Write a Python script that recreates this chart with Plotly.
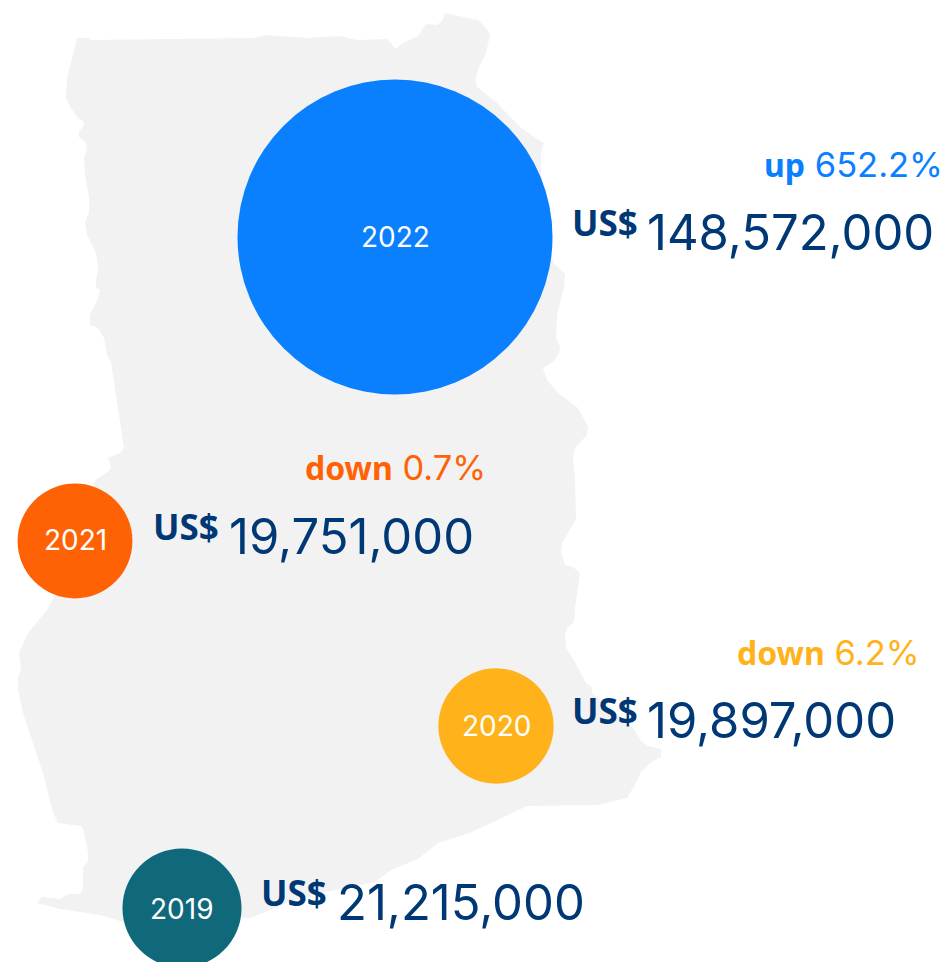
import plotly.graph_objects as go

# Data
years = ["2022", "2021", "2020", "2019"]
values = [148572000, 19751000, 19897000, 21215000]
change_dir = ["up", "down", "down", None]
change_pct = ["652.2%", "0.7%", "6.2%", None]

# Map silhouette
map_x = [77,89,90,255,265,310,320,340,357,387,395,397,403,418,426,437,443,445,478,488,490,486,479,475,477,497,520,537,544,541,541,
         553,565,564,557,556,560,559,553,543,547,558,578,588,587,575,573,575,576,562,561,565,573,580,575,574,567,565,566,575,586,592,592,
         633,642,648,661,661,650,641,635,627,598,527,470,438,418,391,375,320,287,250,123,100,60,37,42,60,69,80,83,83,88,88,83,80,58,53,43,33,23,18,18,21,19,28,47,55,
         95,108,111,108,120,124,117,111,107,104,98,90,90,98,100,96,96,98,96,87,85,89,89,85,84,87,86,79,79,84,83,77,71,66,67,77]
map_y = [38,38,40,38,35,38,37,36,40,39,48,48,43,36,24,25,20,13,20,30,35,53,67,80,87,103,127,139,143,153,173,
         262,274,287,315,337,347,353,362,368,380,393,408,427,435,448,457,480,519,543,552,565,567,573,608,622,628,637,648,662,683,687,693,
         728,742,746,749,757,763,772,785,798,805,806,833,843,859,870,882,893,903,918,922,915,909,903,897,899,894,894,888,867,862,852,828,826,823,812,773,743,713,690,677,668,653,633,610,595,
         480,472,467,458,453,448,403,362,355,338,328,325,315,298,290,288,280,268,253,235,222,213,197,175,157,150,143,137,131,126,121,117,108,98,78,38]

# Layout positions (pixels)
bubble_x = [395, 75, 496, 182]
bubble_y = [237, 541, 726, 908]
bubble_colors = ["#0A80FF", "#FF6205", "#FFB219", "#0F697B"]
year_y = [237, 540, 726, 909]
us_x = [570, 151, 570, 259]
num_x = [645, 227, 645, 335]
row_y = [232, 536, 720, 902]
chg_x = [762, 303, 735, None]
chg_y = [164, 467, 652, None]
NAVY = "#003876"
FONT = "Inter"
BOLD = "Noto Sans"
size_ref = 2 * values[0] / 315 ** 2

fig = go.Figure()
fig.add_trace(go.Scatter(x=map_x, y=map_y, mode="lines", fill="toself", fillcolor="#F2F2F2",
                         line=dict(width=0), hoverinfo="skip"))
fig.add_trace(go.Scatter(x=bubble_x, y=bubble_y, mode="markers",
                         marker=dict(size=values, sizemode="area", sizeref=size_ref, opacity=1,
                                     color=bubble_colors, line=dict(width=0)),
                         cliponaxis=False))

anns = []
for i in range(4):
    anns.append(dict(x=bubble_x[i], y=year_y[i], text=years[i], showarrow=False,
                     xanchor="center", yanchor="middle",
                     font=dict(family=FONT, size=28, color="white"), xref="x", yref="y"))
    anns.append(dict(x=us_x[i], y=row_y[i] - 10, text="<b>US$</b>", showarrow=False, xanchor="left", yanchor="middle",
                     font=dict(family=BOLD, size=35, color=NAVY), xref="x", yref="y"))
    anns.append(dict(x=num_x[i], y=row_y[i], text=f"{values[i]:,}", showarrow=False, xanchor="left", yanchor="middle",
                     font=dict(family=FONT, size=49, color=NAVY), xref="x", yref="y"))
    if change_dir[i]:
        label = (f'<span style="font-family:{BOLD};font-size:32px"><b>{change_dir[i]}</b></span> '
                 f'{change_pct[i]}')
        anns.append(dict(x=chg_x[i], y=chg_y[i], text=label, showarrow=False,
                         xanchor="left", yanchor="middle",
                         font=dict(family=FONT, size=34.5, color=bubble_colors[i]), xref="x", yref="y"))

fig.update_layout(width=944, height=962, margin=dict(l=0, r=0, t=0, b=0), showlegend=False,
                  paper_bgcolor="white", plot_bgcolor="white", annotations=anns,
                  xaxis=dict(range=[0, 944], visible=False, fixedrange=True),
                  yaxis=dict(range=[962, 0], visible=False, fixedrange=True))
fig.write_html("out.html", post_script="document.body.style.margin='0';", config={"displayModeBar": False})
